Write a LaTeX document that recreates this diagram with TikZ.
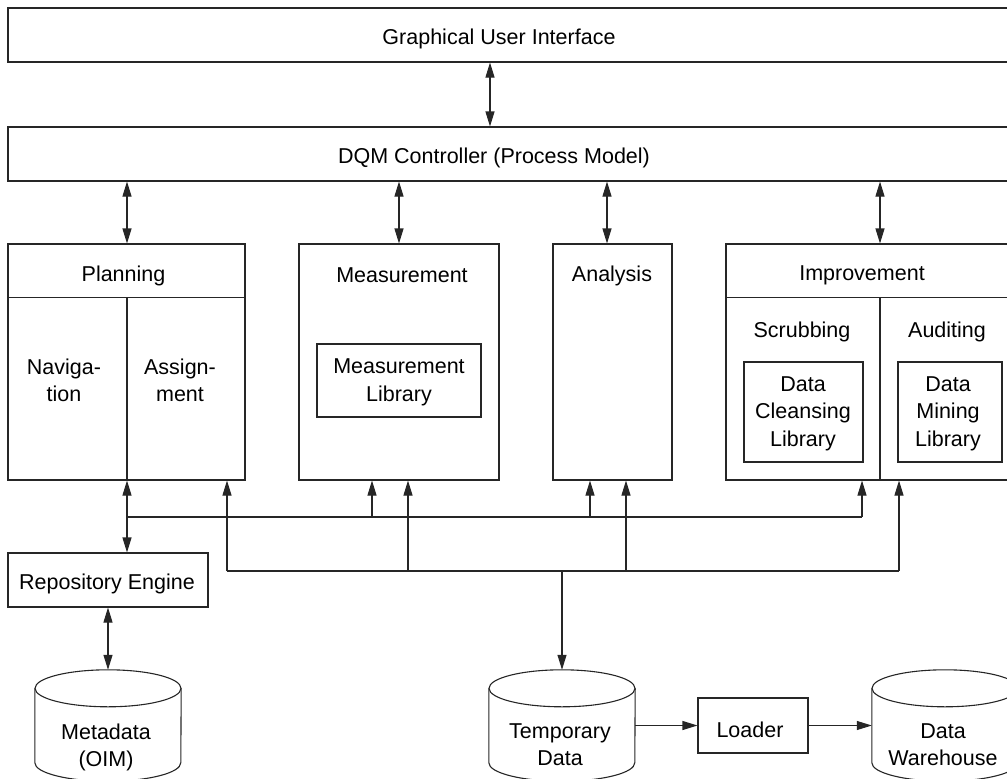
\documentclass[tikz,border=0pt]{standalone}
\usepackage{fontspec}
\setmainfont{Liberation Sans}
\usetikzlibrary{arrows.meta,calc}
\tikzset{
  base/.style={line width=1.1pt, draw=black!85},
  box/.style={base, rectangle, inner sep=0pt},
  txt/.style={inner sep=0pt, align=center, yshift=-2.5pt, font=\fontsize{21.5pt}{27.5pt}\selectfont},
  dbshape/.style={rectangle, inner sep=0pt, minimum width=146pt, minimum height=111pt},
  tip/.style={-{Triangle[length=15pt,width=9pt]}},
  dbl/.style={{Triangle[length=15pt,width=9pt]}-{Triangle[length=15pt,width=9pt]}}
}
\newcommand\dbcyl[1]{%
  \draw[base] ([yshift=-18.5pt]#1.north west) -- ([yshift=18.5pt]#1.south west)
     arc[start angle=180, end angle=0, x radius=73, y radius=18.5]
     -- ([yshift=-18.5pt]#1.north east);
  \draw[base] ([yshift=-18.5pt]#1.north) ellipse[x radius=73, y radius=18.5];}
\begin{document}
\begin{tikzpicture}[x=1pt, y=-1pt]
\useasboundingbox (0,0) rectangle (1007,779);
\clip (0,0) rectangle (1007,779);
% top layers
\node[box, minimum width=1012pt, minimum height=54pt] (gui) at (514,35) {};
\node[txt] (guiT) at (499,36) {Graphical User Interface};
\node[box, minimum width=1012pt, minimum height=54pt] (dqm) at (514,154) {};
\node[txt] (dqmT) at (494,155) {DQM Controller (Process Model)};
% planning
\node[box, minimum width=237pt, minimum height=236pt] (plan) at (126.5,362) {};
\draw[base] ([yshift=-54pt]plan.north west) -- ([yshift=-54pt]plan.north east);
\coordinate (plandiv) at ([xshift=0.5pt]plan.north);
\draw[base] ([yshift=-54pt]plandiv) -- (plandiv |- plan.south);
\node[txt] (planT) at (123.5,273) {Planning};
\node[txt] (navT) at (64,378) {Naviga-\\tion};
\node[txt] (assT) at (180,378) {Assign-\\ment};
% measurement
\node[box, minimum width=200pt, minimum height=236pt] (meas) at (399,362) {};
\node[txt] (measT) at (402,273) {Measurement};
\node[box, minimum width=164pt, minimum height=73pt] (measlib) at (399,380.5) {};
\node[txt] (measlibT) at (399,380) {Measurement\\Library};
% analysis
\node[box, minimum width=119pt, minimum height=236pt] (ana) at (612.5,362) {};
\node[txt] (anaT) at (612,273) {Analysis};
% improvement
\node[box, minimum width=294pt, minimum height=236pt] (impr) at (873,362) {};
\draw[base] ([yshift=-54pt]impr.north west) -- ([yshift=-54pt]impr.north east);
\coordinate (impdiv) at ([xshift=7pt]impr.north);
\draw[base] ([yshift=-54pt]impdiv) -- (impdiv |- impr.south);
\node[txt] (imprT) at (862,273) {Improvement};
\node[txt] (scrT) at (802,329) {Scrubbing};
\node[txt] (audT) at (947,329) {Auditing};
\node[box, minimum width=119pt, minimum height=100pt] (dcl) at (803.5,412) {};
\node[txt] (dclT) at (803,411) {Data\\Cleansing\\Library};
\node[box, minimum width=104pt, minimum height=100pt] (dml) at (950,412) {};
\node[txt] (dmlT) at (948,411) {Data\\Mining\\Library};
% repository, loader
\node[box, minimum width=200pt, minimum height=54pt] (repo) at (108,580) {};
\node[txt] (repoT) at (107,581) {Repository Engine};
\node[box, minimum width=110pt, minimum height=55pt] (loader) at (753,725.5) {};
\node[txt] (loaderT) at (750,727) {Loader};
% cylinders
\node[dbshape] (meta) at (108,725.5) {};
\dbcyl{meta}
\node[txt] (metaT) at (106,745) {Metadata\\(OIM)};
\node[dbshape] (temp) at (562,725.5) {};
\dbcyl{temp}
\node[txt] (tempT) at (560,742) {Temporary\\Data};
\node[dbshape] (wh) at (945,725.5) {};
\dbcyl{wh}
\node[txt] (whT) at (943,742) {Data\\Warehouse};
% connectors top
\draw[base, dbl] (gui.south -| 490,0) -- (dqm.north -| 490,0);
\draw[base, dbl] (dqm.south -| plandiv) -- (plandiv);
\draw[base, dbl] (dqm.south -| meas.north) -- (meas.north);
\draw[base, dbl] (dqm.south -| 607,0) -- (ana.north -| 607,0);
\draw[base, dbl] (dqm.south -| impdiv) -- (impdiv);
% bus 1
\coordinate (b1w) at (127,517);
\coordinate (b1e) at (862,517);
\draw[base, dbl] (plandiv |- plan.south) -- (plandiv |- repo.north);
\draw[base] (b1w) -- (b1e);
\draw[base, tip] (b1e) -- (b1e |- impr.south);
\draw[base, tip] (b1w -| 372,0) -- (meas.south -| 372,0);
\draw[base, tip] (b1w -| 590,0) -- (ana.south -| 590,0);
% bus 2
\coordinate (b2w) at (227,571);
\coordinate (b2e) at (899,571);
\draw[base] (b2w) -- (b2e);
\draw[base, tip] (b2w) -- (b2w |- plan.south);
\draw[base, tip] (b2e) -- (b2e |- impr.south);
\draw[base, tip] (b2w -| 408,0) -- (meas.south -| 408,0);
\draw[base, tip] (b2w -| 626,0) -- (ana.south -| 626,0);
\draw[base, tip] (b2w -| temp.north) -- (temp.north);
% bottom
\draw[base, dbl] (repo.south) -- (meta.north);
\draw[base, tip] (temp.east) -- (loader.west);
\draw[base, tip] (loader.east) -- (wh.west);
\end{tikzpicture}
\end{document}
